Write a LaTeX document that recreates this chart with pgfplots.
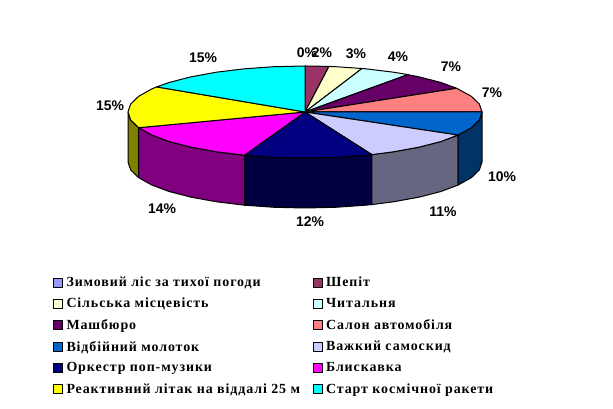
\documentclass[border=0pt]{standalone}
\usepackage{fontspec}
\setmainfont{Liberation Serif}
\newfontfamily\labfont{Liberation Sans}
\newfontfamily\legfont{Liberation Serif}[LetterSpace=6.5]
\usepackage{pgfplots}
\pgfplotsset{compat=1.18}

\definecolor{c0}{HTML}{9999FF}
\definecolor{c1}{HTML}{993366}
\definecolor{c2}{HTML}{FFFFCC}
\definecolor{c3}{HTML}{CCFFFF}
\definecolor{c4}{HTML}{660066}
\definecolor{c5}{HTML}{FF8080}
\definecolor{c6}{HTML}{0066CC}
\definecolor{c7}{HTML}{CCCCFF}
\definecolor{c8}{HTML}{000080}
\definecolor{c9}{HTML}{FF00FF}
\definecolor{c10}{HTML}{FFFF00}
\definecolor{c11}{HTML}{00FFFF}
\definecolor{s6}{HTML}{003366}
\definecolor{s7}{HTML}{666680}
\definecolor{s8}{HTML}{000040}
\definecolor{s9}{HTML}{800080}
\definecolor{s10}{HTML}{808000}

\begin{document}
\begin{tikzpicture}
\begin{axis}[
    scale only axis,
    width=613bp,
    height=409bp,
    xmin=0, xmax=613,
    ymin=0, ymax=409,
    ticks=none,
    axis line style={draw=none},
    clip=false,
    legend columns=2,
    legend cell align=left,
    legend image code/.code={\draw[line width=1bp,#1] (0bp,-4.5bp) rectangle (9bp,4.5bp);},
    legend style={
        at={(axis cs:53,133)}, anchor=north west,
        draw=none, fill=none, inner sep=0pt, outer sep=0pt,
        font=\legfont\fontsize{14}{16}\selectfont\bfseries,
        row sep=8.1bp,
        /tikz/every even column/.append style={column sep=9bp},
        nodes={inner xsep=3.5bp, inner ysep=1bp},
    },
    every axis plot/.append style={draw=black, line width=1bp, line join=round},
]
% side faces
\addplot[fill=s10, forget plot] coordinates {(128,297)(130.7,289)(138.7,281.3)(138.7,231.3)(130.7,239)(128,247)} --cycle;
\addplot[fill=s9, forget plot] coordinates {(138.7,281.3)(151.7,274)(169.4,267.4)(191.2,261.8)(216.5,257.2)(244.5,253.8)(244.5,203.8)(216.5,207.2)(191.2,211.8)(169.4,217.4)(151.7,224)(138.7,231.3)} --cycle;
\addplot[fill=s8, forget plot] coordinates {(244.5,253.8)(274.3,251.7)(305,251)(335.7,251.7)(365.5,253.8)(371.9,254.4)(371.9,204.4)(365.5,203.8)(335.7,201.7)(305,201)(274.3,201.7)(244.5,203.8)} --cycle;
\addplot[fill=s7, forget plot] coordinates {(371.9,254.4)(393.5,257.2)(418.8,261.8)(440.6,267.4)(458,273.9)(458,223.9)(440.6,217.4)(418.8,211.8)(393.5,207.2)(371.9,204.4)} --cycle;
\addplot[fill=s6, forget plot] coordinates {(458,273.9)(471.3,281.3)(479.3,289)(482,297)(482,247)(479.3,239)(471.3,231.3)(458,223.9)} --cycle;
% top faces
\addplot[fill=c0] coordinates {(305,297)(305,343)} --cycle;
\addlegendentry{Зимовий ліс за тихої погоди}
\addplot[fill=c1] coordinates {(305,297)(305,343)(329,342.6)} --cycle;
\addlegendentry{Шепіт}
\addplot[fill=c2] coordinates {(305,297)(329,342.6)(335.7,342.3)(362,340.5)} --cycle;
\addlegendentry{Сільська місцевість}
\addplot[fill=c3] coordinates {(305,297)(362,340.5)(365.5,340.2)(393.5,336.8)(407.9,334.4)} --cycle;
\addlegendentry{Читальня}
\addplot[fill=c4] coordinates {(305,297)(407.9,334.4)(418.8,332.2)(440.6,326.6)(456.7,320.7)} --cycle;
\addlegendentry{Машбюро}
\addplot[fill=c5] coordinates {(305,297)(456.7,320.7)(471.3,312.7)(479.3,305)(482,297)} --cycle;
\addlegendentry{Салон автомобіля}
\addplot[fill=c6] coordinates {(305,297)(482,297)(479.3,289)(471.3,281.3)(458,273.9)} --cycle;
\addlegendentry{Відбійний молоток}
\addplot[fill=c7] coordinates {(305,297)(458,273.9)(440.6,267.4)(418.8,261.8)(393.5,257.2)(371.9,254.4)} --cycle;
\addlegendentry{Важкий самоскид}
\addplot[fill=c8] coordinates {(305,297)(371.9,254.4)(365.5,253.8)(335.7,251.7)(305,251)(274.3,251.7)(244.5,253.8)} --cycle;
\addlegendentry{Оркестр поп-музики}
\addplot[fill=c9] coordinates {(305,297)(244.5,253.8)(216.5,257.2)(191.2,261.8)(169.4,267.4)(151.7,274)(138.7,281.3)} --cycle;
\addlegendentry{Блискавка}
\addplot[fill=c10] coordinates {(305,297)(138.7,281.3)(130.7,289)(128,297)(130.7,305)(138.7,312.7)(151.7,320)(156.6,322.1)} --cycle;
\addlegendentry{Реактивний літак на віддалі 25 м}
\addplot[fill=c11] coordinates {(305,297)(156.6,322.1)(169.4,326.6)(191.2,332.2)(216.5,336.8)(244.5,340.2)(274.3,342.3)(305,343)} --cycle;
\addlegendentry{Старт космічної ракети}
% percent labels
\begin{scope}[every node/.style={font=\labfont\fontsize{14}{15}\selectfont\bfseries, inner sep=0pt}]
\node at (axis cs:307,356) {0\%};
\node at (axis cs:322,356) {2\%};
\node at (axis cs:356,355) {3\%};
\node at (axis cs:398,352) {4\%};
\node at (axis cs:451,342) {7\%};
\node at (axis cs:492,316) {7\%};
\node at (axis cs:502,232) {10\%};
\node at (axis cs:443,197) {11\%};
\node at (axis cs:310,187) {12\%};
\node at (axis cs:162,200) {14\%};
\node at (axis cs:110,303) {15\%};
\node at (axis cs:203,351) {15\%};
\end{scope}
\end{axis}
\end{tikzpicture}
\end{document}
